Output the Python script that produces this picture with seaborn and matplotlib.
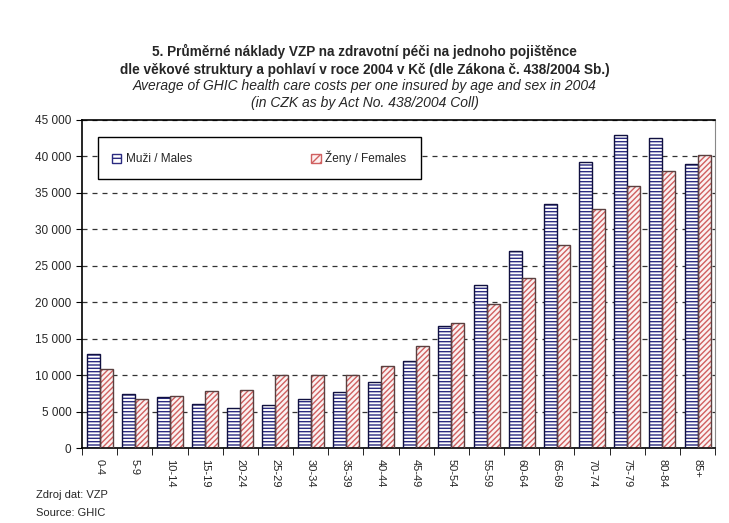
import pandas as pd
import numpy as np
import matplotlib
matplotlib.use("Agg")
import matplotlib.pyplot as plt
import matplotlib.patches as mpatches
from matplotlib.ticker import FuncFormatter, FixedLocator
import seaborn as sns

# Données
age_groups = ["0-4", "5-9", "10-14", "15-19", "20-24", "25-29", "30-34", "35-39", "40-44",
              "45-49", "50-54", "55-59", "60-64", "65-69", "70-74", "75-79", "80-84", "85+"]
males = [12900, 7400, 7000, 6000, 5500, 5900, 6700, 7700, 9000,
         12000, 16700, 22300, 27000, 33500, 39300, 43000, 42500, 39000]
females = [10800, 6700, 7100, 7800, 7900, 10000, 10000, 10000, 11200,
           14000, 17200, 19700, 23300, 27800, 32800, 36000, 38000, 40200]
label_m = "Muži / Males"
label_f = "Ženy / Females"

df = pd.DataFrame({
    "age": age_groups * 2,
    "cost": males + females,
    "sex": [label_m] * len(age_groups) + [label_f] * len(age_groups),
})

sns.set_style("white")
plt.rcParams["font.family"] = ["Liberation Sans", "DejaVu Sans"]
plt.rcParams["hatch.linewidth"] = 1.0

fig = plt.figure(figsize=(7.29, 5.23), dpi=100)
ax = fig.add_axes([0.1125, 0.1434, 0.8685, 0.6272])

sns.barplot(data=df, x="age", y="cost", hue="sex", order=age_groups,
            hue_order=[label_m, label_f], palette=["white", "#fdf0f0"],
            width=0.74, gap=0, legend=False, ax=ax)

# hachures : couleur de hachure = couleur du bord, puis contour noir par-dessus
n = len(age_groups)
for i, p in enumerate(list(ax.patches)):
    if i < n:
        p.set_hatch("-----")
        p.set_edgecolor("#2a2a80")
        edge = "#101040"
    else:
        p.set_hatch("//////")
        p.set_edgecolor("#d06060")
        edge = "#5a4040"
    p.set_linewidth(0)
    ax.add_patch(mpatches.Rectangle(p.get_xy(), p.get_width(), p.get_height(),
                                    fill=False, edgecolor=edge, linewidth=1.0, zorder=3))

ax.set_ylim(0, 45000)
ax.set_xlim(-0.5, n - 0.5)
ax.set_yticks(np.arange(0, 45001, 5000))
ax.yaxis.set_major_formatter(FuncFormatter(lambda v, _: f"{int(v):,}".replace(",", " ")))
ax.grid(axis="y", linestyle=(0, (4, 4)), color="#333333", linewidth=0.9)
ax.set_axisbelow(True)

ax.set_xlabel("")
ax.set_ylabel("")
ax.tick_params(axis="x", which="major", length=0, labelsize=8, labelrotation=270, pad=8)
ax.xaxis.set_minor_locator(FixedLocator(np.arange(-0.5, n, 1.0)))
ax.tick_params(axis="x", which="minor", length=5, direction="out", color="black", bottom=True)
ax.tick_params(axis="y", length=4, direction="out", color="black", left=True, labelsize=8.5)

for s in ["left", "bottom", "top"]:
    ax.spines[s].set_color("black")
    ax.spines[s].set_linewidth(1.2)
ax.spines["right"].set_color("#888888")

handles = [
    mpatches.Patch(facecolor="white", edgecolor="#2a2a80", hatch="---", label=label_m),
    mpatches.Patch(facecolor="#fdf0f0", edgecolor="#d06060", hatch="////", label=label_f),
]
leg = ax.legend(handles=handles, loc="center", ncol=2, mode="expand",
                bbox_to_anchor=(0.025, 0.814, 0.51, 0.14), fancybox=False, frameon=True,
                framealpha=1, fontsize=8.5, handlelength=0.8, handleheight=0.8, borderpad=1.2,
                borderaxespad=0, handletextpad=0.4)
leg.get_frame().set_edgecolor("black")
leg.get_frame().set_linewidth(1.0)
leg.set_zorder(5)

fig.text(0.5, 0.892, "5. Průměrné náklady VZP na zdravotní péči na jednoho pojištěnce",
         ha="center", fontsize=9.8, fontweight="bold")
fig.text(0.5, 0.859, "dle věkové struktury a pohlaví v roce 2004 v Kč (dle Zákona č. 438/2004 Sb.)",
         ha="center", fontsize=9.8, fontweight="bold")
fig.text(0.5, 0.827, "Average of GHIC health care costs per one insured by age and sex in 2004",
         ha="center", fontsize=10, style="italic")
fig.text(0.5, 0.796, "(in CZK as by Act No. 438/2004 Coll)",
         ha="center", fontsize=10, style="italic")

fig.text(0.05, 0.048, "Zdroj dat: VZP", fontsize=8)
fig.text(0.05, 0.014, "Source: GHIC", fontsize=8)

fig.savefig("out.png", dpi=100)
